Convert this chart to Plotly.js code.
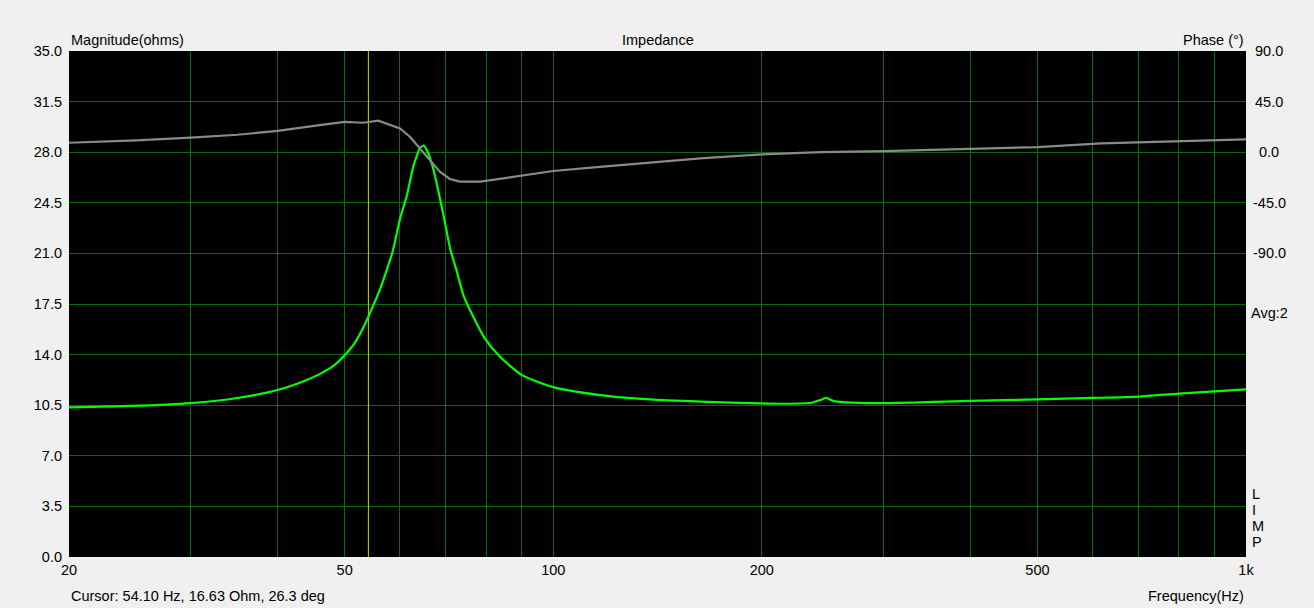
<!DOCTYPE html>
<html>
<head>
<meta charset="utf-8">
<script src="https://cdn.plot.ly/plotly-3.0.1.min.js"></script>
<style>html,body{margin:0;padding:0;background:#f0f0f0;}#chart{width:1314px;height:608px;}</style>
</head>
<body>
<div id="chart"></div>
<script>
// Impedance magnitude (ohms) vs frequency (Hz)
const magFreq = [20, 24.5, 30, 35, 40, 44.1, 46.0, 48.1, 50, 51.7, 53.1, 54.1, 56.2, 57.5, 58.7, 60.1, 61.4, 62.8, 63.4, 64.2, 65.1, 65.9, 67.0, 68.2, 69.6, 71.1, 72.5, 74.2, 76.7, 79.7, 83.8, 90, 100, 116.8, 138, 162.9, 200, 216.8, 236, 242.7, 247.6, 253.4, 263.8, 300, 400, 500, 600, 700, 800, 1000];
const magOhm  = [10.35, 10.45, 10.65, 11.0, 11.55, 12.25, 12.65, 13.2, 13.95, 14.8, 15.8, 16.63, 18.5, 19.85, 21.2, 23.4, 24.9, 27.0, 27.6, 28.3, 28.45, 28.0, 27.0, 25.4, 23.4, 21.2, 19.85, 18.1, 16.6, 15.1, 13.85, 12.6, 11.75, 11.2, 10.9, 10.75, 10.62, 10.6, 10.67, 10.85, 11.0, 10.8, 10.7, 10.65, 10.8, 10.9, 11.0, 11.1, 11.3, 11.6];
// Phase (deg) vs frequency (Hz)
const phaseFreq = [20, 25, 30, 35, 40, 43.1, 46, 50, 53.2, 55.9, 58.0, 60.1, 62.1, 64.2, 66.4, 68.6, 70.9, 73.3, 78.5, 83.8, 100, 116.8, 138, 163, 200, 243, 300, 400, 500, 618, 767, 857, 1000];
const phaseDeg  = [8.4, 10.5, 12.9, 15.5, 18.9, 21.3, 24.0, 27.0, 26.2, 28.0, 24.2, 21.2, 13.8, 3.5, -6.9, -17.3, -23.8, -26.2, -26.2, -23.8, -16.7, -13.0, -9.0, -5.5, -2.0, 0.0, 1.0, 3.0, 4.5, 7.9, 9.3, 10.2, 11.4];
// Cursor
const cursorFreq = 54.10, cursorOhm = 16.63, cursorDeg = 26.3;
// Axis ticks
const freqGrid = [20, 30, 40, 50, 60, 70, 80, 90, 100, 200, 300, 400, 500, 600, 700, 800, 900, 1000];
const freqLabels = ['20', '', '', '50', '', '', '', '', '100', '200', '', '', '500', '', '', '', '', '1k'];
const magTicks = [0, 3.5, 7, 10.5, 14, 17.5, 21, 24.5, 28, 31.5, 35];
const phaseTicks = [90, 45, 0, -45, -90];
const magRange = [0, 35];
const phaseRange = [-360, 90];
const sideLetters = ['L', 'I', 'M', 'P'];

const FONT = 'Liberation Sans, Arial, sans-serif';
const FS = 14.5;
const gridColor = '#0b6b0b';

const traces = [
  {x: [cursorFreq, cursorFreq], y: magRange, mode: 'lines', line: {color: '#d8d800', width: 1}, hoverinfo: 'skip'},
  {x: phaseFreq, y: phaseDeg, yaxis: 'y2', mode: 'lines', line: {color: '#8a8a8a', width: 2.2}},
  {x: magFreq, y: magOhm, mode: 'lines', line: {color: '#00ff00', width: 2.2, shape: 'spline', smoothing: 0.6}}
];

const txt = {family: FONT, size: FS, color: '#000'};
const annotations = [
  {text: 'Magnitude(ohms)', xref: 'paper', yref: 'paper', x: 0, y: 1, xanchor: 'left', yanchor: 'bottom', yshift: 1, showarrow: false, font: txt},
  {text: 'Impedance', xref: 'paper', yref: 'paper', x: 0.5, y: 1, xanchor: 'center', yanchor: 'bottom', yshift: 1, showarrow: false, font: txt},
  {text: 'Phase (°)', xref: 'paper', yref: 'paper', x: 1, y: 1, xanchor: 'right', yanchor: 'bottom', yshift: 1, showarrow: false, font: txt},
  {text: 'Cursor: ' + cursorFreq.toFixed(2) + ' Hz, ' + cursorOhm.toFixed(2) + ' Ohm, ' + cursorDeg.toFixed(1) + ' deg', xref: 'paper', yref: 'paper', x: 0, y: 0, xanchor: 'left', yanchor: 'top', yshift: -29, showarrow: false, font: txt},
  {text: 'Frequency(Hz)', xref: 'paper', yref: 'paper', x: 1, y: 0, xanchor: 'right', yanchor: 'top', yshift: -29, showarrow: false, font: txt},
  {text: 'Avg:2', xref: 'paper', yref: 'paper', x: 1, y: (557 - 313) / 506, xanchor: 'left', yanchor: 'middle', xshift: 3, showarrow: false, font: txt}
];
sideLetters.forEach(function (ch, i) {
  annotations.push({text: ch, xref: 'paper', yref: 'paper', x: 1, y: (557 - (494 + 16 * i)) / 506, xanchor: 'left', yanchor: 'middle', xshift: 4, showarrow: false, font: txt});
});
phaseTicks.forEach(function (p) {
  annotations.push({text: p.toFixed(1), xref: 'paper', yref: 'y2', x: 1, y: p, xanchor: 'center', yanchor: 'middle', xshift: 23, showarrow: false, font: txt});
});

const layout = {
  width: 1314, height: 608,
  paper_bgcolor: '#f0f0f0', plot_bgcolor: '#000000',
  margin: {l: 69, r: 68, t: 51, b: 51, pad: 0},
  showlegend: false,
  font: txt,
  xaxis: {type: 'log', range: [Math.log10(20), Math.log10(1000)], tickvals: freqGrid, ticktext: freqLabels,
          showgrid: true, gridcolor: gridColor, gridwidth: 1, zeroline: false, showline: false, ticks: '', ticklabelstandoff: 2,
          tickfont: txt, fixedrange: true},
  yaxis: {range: magRange, tickvals: magTicks, tickformat: '.1f', showgrid: true, gridcolor: gridColor, gridwidth: 1,
          zeroline: false, showline: false, ticks: '', ticklabelstandoff: 6, tickfont: txt, fixedrange: true},
  yaxis2: {range: phaseRange, overlaying: 'y', side: 'right', showgrid: false, zeroline: false, showline: false,
           showticklabels: false, ticks: '', fixedrange: true},
  annotations: annotations
};

Plotly.newPlot('chart', traces, layout, {staticPlot: true});
</script>
</body>
</html>
